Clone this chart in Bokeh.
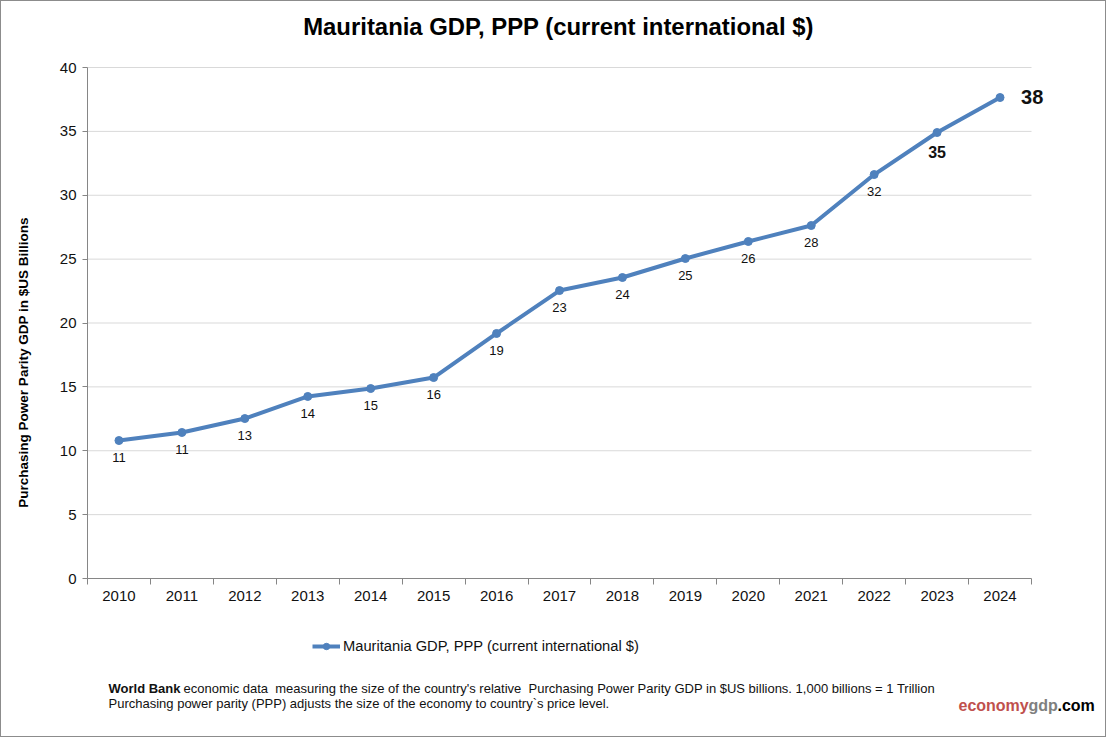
import math
from bokeh.plotting import figure
from bokeh.models import Range1d, FixedTicker, Label, Legend, LegendItem
from bokeh.core.properties import value
from bokeh.embed import file_html
from bokeh.resources import INLINE

# ---- data ----
years = [2010, 2011, 2012, 2013, 2014, 2015, 2016, 2017, 2018, 2019, 2020, 2021, 2022, 2023, 2024]
gdp_ppp_bn = [10.8, 11.43, 12.52, 14.25, 14.87, 15.73, 19.18, 22.54, 23.56, 25.05, 26.38, 27.63, 31.62, 34.91, 37.65]
y_ticks = [0, 5, 10, 15, 20, 25, 30, 35, 40]
series_name = "Mauritania GDP, PPP (current international $)"
title_text = "Mauritania GDP, PPP (current international $)"
y_title = "Purchasing Power Parity GDP in $US Billions"
note_bold = "World Bank"
note_line1 = "economic data \u00a0measuring the size of the country's relative \u00a0Purchasing Power Parity GDP in $US billions. 1,000 billions = 1 Trillion"
note_line2 = "Purchasing power parity (PPP) adjusts the size of the economy to country`s price level."
brand_parts = ["economy", "gdp", ".com"]

# ---- layout (pixels on the canvas) ----
W, H = 1106, 737
PLOT_L, PLOT_R, PLOT_T, PLOT_B = 86, 1030, 66, 577

FONT = "Liberation Sans"
BLUE = "#4f81bd"
AXIS = "#868686"
GRID = "#d9d9d9"
TXT = "#111111"

x0, x1 = years[0] - 0.5, years[-1] + 0.5
y0, y1 = y_ticks[0], y_ticks[-1]
px_x = (PLOT_R - PLOT_L) / (x1 - x0)
px_y = (PLOT_B - PLOT_T) / (y1 - y0)

p = figure(width=W, height=H, output_backend="svg", toolbar_location=None,
           x_range=Range1d(x0 - PLOT_L / px_x, x1 + (W - PLOT_R) / px_x),
           y_range=Range1d(y0 - (H - PLOT_B) / px_y, y1 + PLOT_T / px_y),
           min_border=0)
p.styles = {"border": "1px solid #8c8c8c"}
p.background_fill_color = "white"
p.border_fill_color = "white"
p.outline_line_color = None
p.xgrid.visible = False
p.ygrid.visible = False

# ---- axes drawn inside the canvas at fixed data locations ----
xa = p.xaxis[0]
xa.fixed_location = y0
xa.bounds = (x0, x1)
xa.ticker = FixedTicker(ticks=years, minor_ticks=[y - 0.5 for y in years] + [x1])
xa.major_label_overrides = {y: str(y) for y in years}
xa.major_tick_line_color = None
xa.major_tick_out = 0
xa.major_tick_in = 0
xa.minor_tick_out = 6
xa.minor_tick_in = 0
xa.minor_tick_line_color = AXIS
xa.axis_line_color = AXIS
xa.major_label_standoff = 6
xa.major_label_text_font = FONT
xa.major_label_text_font_size = "15px"
xa.major_label_text_color = TXT

ya = p.yaxis[0]
ya.fixed_location = x0
ya.bounds = (y0, y1)
ya.ticker = FixedTicker(ticks=y_ticks, minor_ticks=[])
ya.major_tick_out = 5
ya.major_tick_in = 0
ya.major_tick_line_color = AXIS
ya.axis_line_color = AXIS
ya.major_label_standoff = 6
ya.major_label_text_font = FONT
ya.major_label_text_font_size = "15px"
ya.major_label_text_color = TXT

# horizontal gridlines within the plot area
grid_y = [t for t in y_ticks if t > y0]
p.segment(x0=[x0] * len(grid_y), x1=[x1] * len(grid_y), y0=grid_y, y1=grid_y,
          line_color=GRID, line_width=1)

# ---- series ----
r_line = p.line(years, gdp_ppp_bn, line_color=BLUE, line_width=4)
r_pts = p.scatter(years, gdp_ppp_bn, size=8, fill_color=BLUE, line_color=BLUE)

# ---- data labels ----
labels = [str(int(round(v))) for v in gdp_ppp_bn]
n = len(years)
p.text(years[:n - 2], gdp_ppp_bn[:n - 2], text=labels[:n - 2], text_font=value(FONT),
       text_font_size="13px", text_color=TXT, text_align="center", text_baseline="middle", y_offset=17)
p.text(years[n - 2:n - 1], gdp_ppp_bn[n - 2:n - 1], text=labels[n - 2:n - 1], text_font=value(FONT),
       text_font_size="16px", text_font_style="bold", text_color=TXT, text_align="center",
       text_baseline="middle", y_offset=19)
p.text(years[n - 1:], gdp_ppp_bn[n - 1:], text=labels[n - 1:], text_font=value(FONT),
       text_font_size="20px", text_font_style="bold", text_color=TXT, text_align="left",
       text_baseline="middle", x_offset=21, y_offset=-1)

# ---- legend ----
legend = Legend(items=[LegendItem(label=series_name, renderers=[r_line, r_pts])],
                location=(311, H - 653), orientation="horizontal",
                glyph_width=28, glyph_height=16, label_height=16, label_standoff=3,
                padding=0, margin=0, border_line_color=None, background_fill_alpha=0,
                label_text_font=FONT, label_text_font_size="14.7px", label_text_color=TXT)
p.add_layout(legend, "center")

# ---- texts (screen units: pixels from the canvas bottom-left) ----
def add_label(x, y, text, size, style="normal", color=TXT, align="left", angle=0.0):
    p.add_layout(Label(x=x, y=y, x_units="screen", y_units="screen", text=text,
                       text_font=FONT, text_font_size=size, text_font_style=style,
                       text_color=color, text_align=align, text_baseline="middle", angle=angle))

add_label(557, H - 25, title_text, "23.9px", "bold", "#000000", "center")
add_label(22, H - 361, y_title, "13.5px", "bold", "#000000", "center", math.pi / 2)
add_label(107, H - 687, note_bold, "13px", "bold")
add_label(182, H - 687, note_line1, "13px")
add_label(107, H - 702, note_line2, "13px")
add_label(957, H - 704, brand_parts[0], "16px", "bold", "#c0504d")
add_label(1027, H - 704, brand_parts[1], "16px", "bold", "#808080")
add_label(1056, H - 704, brand_parts[2], "16px", "bold", "#000000")

open("out.html", "w").write(file_html(p, INLINE))
